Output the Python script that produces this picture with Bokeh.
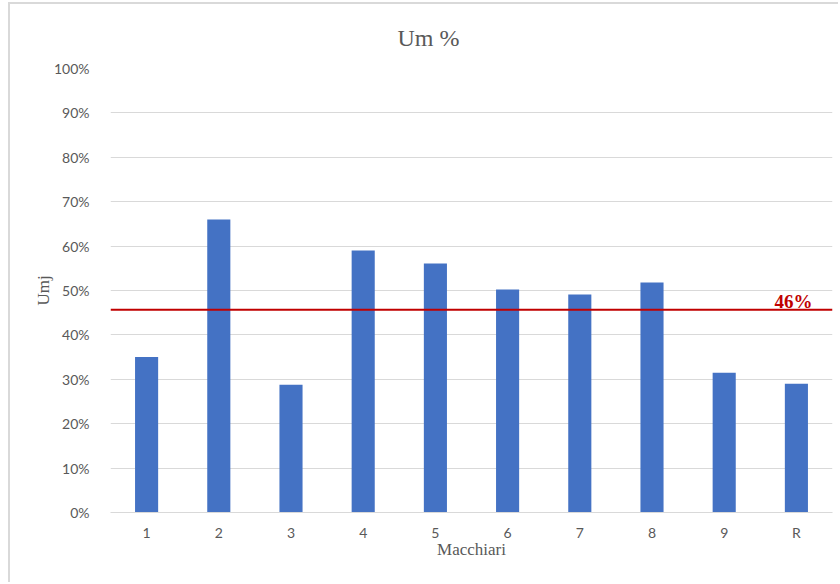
from bokeh.plotting import figure
from bokeh.models import (ColumnDataSource, FactorRange, Range1d, FixedTicker,
                          NumeralTickFormatter, Span)
from bokeh.core.properties import value
from bokeh.embed import file_html
from bokeh.resources import INLINE

# Machines and their Umj share
machines = ["1", "2", "3", "4", "5", "6", "7", "8", "9", "R"]
umj = [0.35, 0.66, 0.288, 0.59, 0.561, 0.502, 0.491, 0.518, 0.315, 0.29]
y_ticks = [i / 10 for i in range(11)]

mean_umj = sum(umj) / len(umj)

GRAY_TEXT = "#595959"
GRID = "#D9D9D9"
BAR = "#4472C4"
RED = "#C00000"

p = figure(
    width=830, height=580,
    x_range=FactorRange(*machines, range_padding=0),
    y_range=Range1d(0, 1),
    output_backend="svg", toolbar_location=None,
    min_border_left=100, min_border_right=8,
    min_border_top=64, min_border_bottom=72,
)
# Light chart-area border on the top and left edges
p.styles = {
    "margin-left": "8px", "margin-top": "2px",
    "border-left": "2px solid #D9D9D9", "border-top": "2px solid #D9D9D9",
}
p.outline_line_color = None
p.background_fill_color = "white"
p.border_fill_color = "white"

# Title
p.title.text = "Um %"
p.title.text_font = "Liberation Serif"
p.title.text_font_size = "24px"
p.title.text_font_style = "normal"
p.title.text_color = GRAY_TEXT
p.title.align = "left"
p.title.offset = 287
p.title.standoff = 35

src = ColumnDataSource(dict(x=machines, y=umj))
p.vbar(x="x", top="y", width=0.32, source=src, color=BAR, line_color=None)

# Average line with its label
p.add_layout(Span(location=mean_umj, dimension="width", line_color=RED, line_width=2))
lab = ColumnDataSource(dict(x=[machines[-1]], y=[mean_umj], t=[f"{round(mean_umj * 100)}%"]))
p.text(x="x", y="y", text="t", source=lab, x_offset=16, y_offset=-8,
       text_align="right", text_baseline="alphabetic",
       text_font=value("Liberation Serif"), text_font_style="bold",
       text_font_size="19px", text_color=RED)

# Y axis
p.yaxis.ticker = FixedTicker(ticks=y_ticks)
p.yaxis.formatter = NumeralTickFormatter(format="0%")
p.yaxis.axis_line_color = None
p.yaxis.major_tick_line_color = None
p.yaxis.minor_tick_line_color = None
p.yaxis.major_label_standoff = 15
p.yaxis.major_label_text_font = "Lato"
p.yaxis.major_label_text_font_size = "14px"
p.yaxis.major_label_text_color = GRAY_TEXT
p.yaxis.axis_label = "Umj"
p.yaxis.axis_label_text_font = "Liberation Serif"
p.yaxis.axis_label_text_font_size = "17px"
p.yaxis.axis_label_text_font_style = "normal"
p.yaxis.axis_label_text_color = GRAY_TEXT
p.yaxis.axis_label_standoff = -2

# X axis
p.xaxis.axis_line_color = GRID
p.xaxis.axis_line_width = 1
p.xaxis.major_tick_line_color = None
p.xaxis.minor_tick_line_color = None
p.xaxis.major_label_standoff = 5
p.xaxis.major_label_text_font = "Lato"
p.xaxis.major_label_text_font_size = "14px"
p.xaxis.major_label_text_color = GRAY_TEXT
p.xaxis.axis_label = "Macchiari"
p.xaxis.axis_label_text_font = "Liberation Serif"
p.xaxis.axis_label_text_font_size = "17px"
p.xaxis.axis_label_text_font_style = "normal"
p.xaxis.axis_label_text_color = GRAY_TEXT
p.xaxis.axis_label_standoff = -4

p.xgrid.grid_line_color = None
p.ygrid.grid_line_color = GRID
p.ygrid.grid_line_width = 1

open("out.html", "w").write(file_html(p, INLINE))
